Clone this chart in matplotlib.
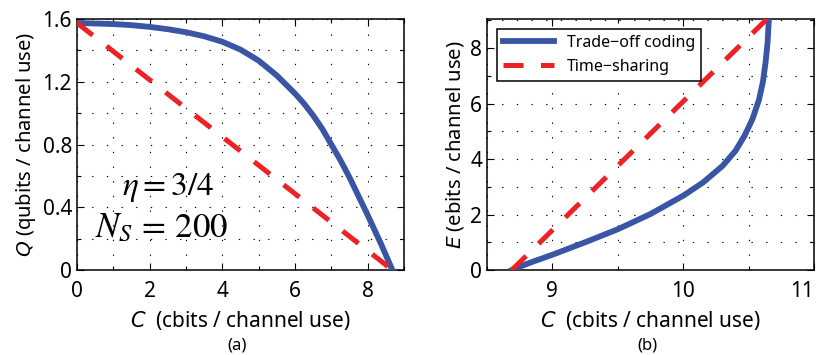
import numpy as np
import matplotlib
matplotlib.use("Agg")
import matplotlib.pyplot as plt
from matplotlib.ticker import MultipleLocator, FixedLocator, FuncFormatter

plt.rcParams['font.family'] = ['Noto Sans', 'DejaVu Sans']
plt.rcParams['mathtext.fontset'] = 'dejavusans'

BLUE = '#3A55A4'
RED = '#EC2227'

# (a) Q versus C
c_tradeoff_a = [0.0, 1.0, 1.5, 2.0, 2.5, 3.0, 3.5, 4.0, 4.5, 5.0, 5.5, 6.0, 6.25, 6.5, 6.75, 7.0,
                7.25, 7.5, 8.0, 8.35, 8.68]
q_tradeoff_a = [1.575, 1.568, 1.561, 1.55, 1.535, 1.516, 1.49, 1.455, 1.405, 1.335, 1.24, 1.125, 1.06,
                0.985, 0.9, 0.8, 0.7, 0.59, 0.35, 0.175, 0.0]
c_timeshare_a = [0.0, 8.68]
q_timeshare_a = [1.575, 0.0]

# (b) E versus C
c_tradeoff_b = [8.69, 8.75, 8.85, 9.0, 9.25, 9.5, 9.75, 10.0, 10.15, 10.3, 10.4, 10.47, 10.53, 10.58,
                10.61, 10.63, 10.645, 10.655]
e_tradeoff_b = [0.0, 0.12, 0.3, 0.55, 1.0, 1.47, 2.02, 2.68, 3.15, 3.75, 4.3, 4.85, 5.45, 6.15,
                6.8, 7.5, 8.2, 9.05]
c_timeshare_b = [8.69, 10.64]
e_timeshare_b = [0.0, 9.05]

fig = plt.figure(figsize=(8.2, 3.55), dpi=100)
ax1 = fig.add_axes([0.0939, 0.2394, 0.3988, 0.7070])
ax2 = fig.add_axes([0.5939, 0.2394, 0.3988, 0.7070])

dash = (0, (4, 3.5))


def style_axes(ax):
    ax.grid(True, which='both', color='k', linestyle=(0, (1.2, 12)), linewidth=0.8)
    ax.tick_params(which='both', direction='in', top=True, right=True, labelsize=15, width=0.8)
    ax.tick_params(which='major', length=5)
    ax.tick_params(which='minor', length=3)
    ax.tick_params(axis='x', pad=8)
    for s in ax.spines.values():
        s.set_linewidth(1.1)
    ax.xaxis.set_major_formatter(FuncFormatter(lambda v, p: '%g' % v))
    ax.yaxis.set_major_formatter(FuncFormatter(lambda v, p: '%g' % v))


ax1.plot(c_tradeoff_a, q_tradeoff_a, color=BLUE, lw=4.2, solid_joinstyle='round', zorder=3)
ax1.plot(c_timeshare_a, q_timeshare_a, color=RED, lw=3.6, linestyle=dash, zorder=3)
ax1.set_xlim(0, 9)
ax1.set_ylim(0, 1.6)
ax1.xaxis.set_major_locator(MultipleLocator(2))
ax1.xaxis.set_minor_locator(MultipleLocator(1))
ax1.yaxis.set_major_locator(MultipleLocator(0.4))
ax1.yaxis.set_minor_locator(MultipleLocator(0.2))
style_axes(ax1)
ax1.set_xlabel(r'$C$  (cbits / channel use)', fontsize=15, labelpad=5)
ax1.set_ylabel(r'$Q$ (qubits / channel use)', fontsize=14.5, labelpad=3)
ax1.text(1.24, 0.478, r'$\eta = 3/4$', fontsize=24, math_fontfamily='stix', va='baseline')
ax1.text(0.49, 0.21, r'$N_S\,=\,200$', fontsize=25, math_fontfamily='stix', va='baseline')

ax2.plot(c_tradeoff_b, e_tradeoff_b, color=BLUE, lw=4.2, solid_joinstyle='round', zorder=3,
         label='Trade\u2212off coding')
ax2.plot(c_timeshare_b, e_timeshare_b, color=RED, lw=3.6, linestyle=dash, zorder=3,
         label='Time\u2212sharing')
ax2.set_xlim(8.5, 11)
ax2.set_ylim(0, 9.05)
ax2.xaxis.set_major_locator(FixedLocator([9, 10, 11]))
ax2.xaxis.set_minor_locator(MultipleLocator(0.5))
ax2.yaxis.set_major_locator(MultipleLocator(2))
ax2.yaxis.set_minor_locator(MultipleLocator(1))
style_axes(ax2)
ax2.set_xlabel(r'$C$  (cbits / channel use)', fontsize=15, labelpad=5)
ax2.set_ylabel(r'$E$ (ebits / channel use)', fontsize=14.5, labelpad=3)
leg = ax2.legend(loc='upper left', fontsize=11.5, handlelength=3.2, fancybox=False,
                 edgecolor='k', framealpha=1, borderaxespad=0.6)
leg.get_frame().set_linewidth(1.1)

# the "11" label sits against the right edge of the figure
ax2.xaxis.get_major_ticks()[-1].label1.set_horizontalalignment('right')

fig.text(0.289, 0.003, '(a)', fontsize=12, ha='center', va='bottom')
fig.text(0.789, 0.003, '(b)', fontsize=12, ha='center', va='bottom')

fig.savefig('out.png', dpi=100)
